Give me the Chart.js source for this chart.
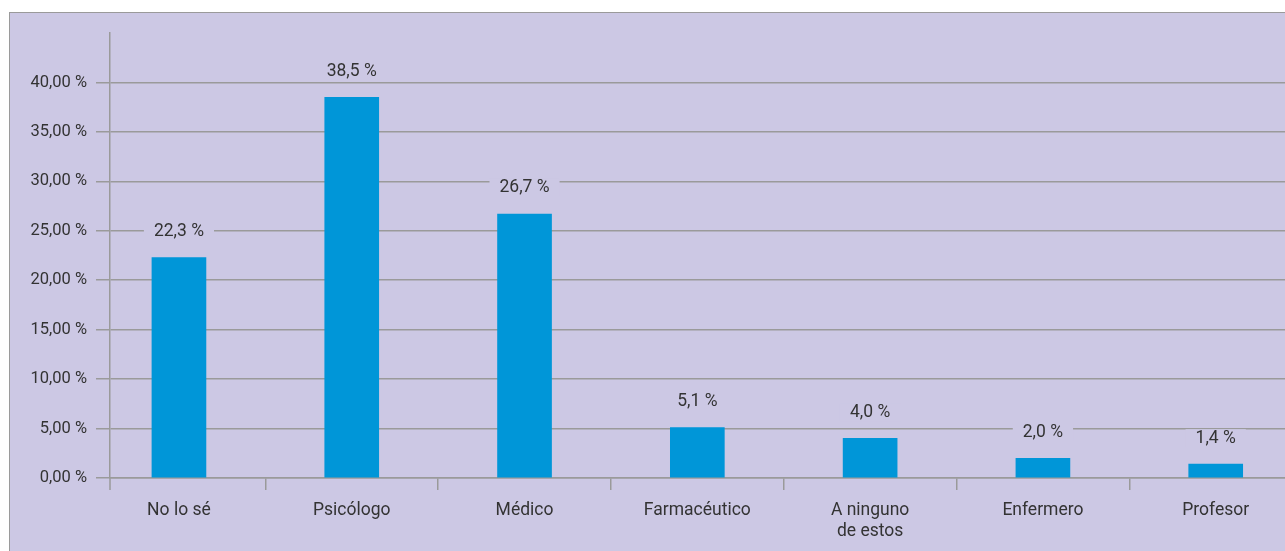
<!DOCTYPE html>
<html>
<head>
<meta charset="utf-8">
<script src="https://cdn.jsdelivr.net/npm/chart.js@4"></script>
<style>
  html, body { margin: 0; padding: 0; background: #ffffff; overflow: hidden; }
  #frame {
    position: absolute; left: 9px; top: 12px; width: 1290px; height: 560px;
    background: #ccc8e4; border: 1.5px solid #9a9a9a; box-sizing: border-box;
  }
  #wrap { position: absolute; left: 10px; top: 13px; width: 1275px; height: 538px; }
</style>
</head>
<body>
<div id="frame"></div>
<div id="wrap"><canvas id="chart"></canvas></div>
<script>
const categories = ["No lo sé", "Psicólogo", "Médico", "Farmacéutico", ["A ninguno", "de estos"], "Enfermero", "Profesor"];
const percentages = [22.3, 38.5, 26.7, 5.1, 4.0, 2.0, 1.4];
const yTicks = [0, 5, 10, 15, 20, 25, 30, 35, 40];

const bgColor = "#ccc8e4";
const lineColor = "#9a9a9a";
const textColor = "#333333";
const fontFamily = "Roboto, 'Noto Sans', sans-serif";

const fmt = (v, d) => v.toFixed(d).replace(".", ",") + " %";

// value labels above bars, with a patch of background behind them
const barLabels = {
  id: "barLabels",
  afterDatasetsDraw(chart) {
    const ctx = chart.ctx;
    const meta = chart.getDatasetMeta(0);
    ctx.save();
    ctx.font = "17.5px " + fontFamily;
    ctx.textAlign = "center";
    ctx.textBaseline = "middle";
    meta.data.forEach((bar, i) => {
      const text = fmt(percentages[i], 1);
      const w = ctx.measureText(text).width + 20;
      const y = bar.y - 26;
      ctx.fillStyle = bgColor;
      ctx.fillRect(bar.x - w / 2, y - 9, w, 18);
      ctx.fillStyle = textColor;
      ctx.fillText(text, bar.x, y);
    });
    ctx.restore();
  }
};

// y axis line runs a little below the x axis
const axisExtend = {
  id: "axisExtend",
  afterDraw(chart) {
    const a = chart.chartArea;
    const ctx = chart.ctx;
    ctx.save();
    ctx.strokeStyle = lineColor;
    ctx.lineWidth = 1.5;
    ctx.beginPath();
    ctx.moveTo(a.left, a.bottom);
    ctx.lineTo(a.left, a.bottom + 12);
    ctx.stroke();
    ctx.restore();
  }
};

new Chart(document.getElementById("chart"), {
  type: "bar",
  data: {
    datasets: [{
      data: percentages.map((v, i) => ({ x: i, y: v })),
      backgroundColor: "#0096d8",
      barThickness: 54
    }]
  },
  options: {
    responsive: true,
    maintainAspectRatio: false,
    animation: false,
    layout: { padding: { top: 20, right: 0, left: 0, bottom: 0 } },
    plugins: { legend: { display: false }, tooltip: { enabled: false } },
    scales: {
      x: {
        type: "linear",
        offset: false,
        min: -0.399,
        max: 6.401,
        afterBuildTicks(scale) {
          scale.ticks = categories.map((c, i) => ({ value: i }));
        },
        afterFit(scale) { scale.height = 73; },
        grid: { offset: true, drawOnChartArea: false, tickLength: 12, color: lineColor, lineWidth: 1.5 },
        border: { color: lineColor, width: 1.5 },
        ticks: {
          color: textColor,
          font: { family: fontFamily, size: 17.5 },
          padding: 10,
          maxRotation: 0,
          autoSkip: false,
          callback: (v) => categories[v]
        }
      },
      y: {
        min: 0,
        max: 45,
        afterBuildTicks(scale) {
          scale.ticks = yTicks.map(v => ({ value: v }));
        },
        afterFit(scale) { scale.width = 100; },
        grid: { tickLength: 14, color: lineColor, lineWidth: 1.5 },
        border: { color: lineColor, width: 1.5 },
        ticks: {
          color: textColor,
          font: { family: fontFamily, size: 16.5 },
          padding: 9,
          callback: (v) => fmt(v, 2)
        }
      }
    }
  },
  plugins: [barLabels, axisExtend]
});
</script>
</body>
</html>
